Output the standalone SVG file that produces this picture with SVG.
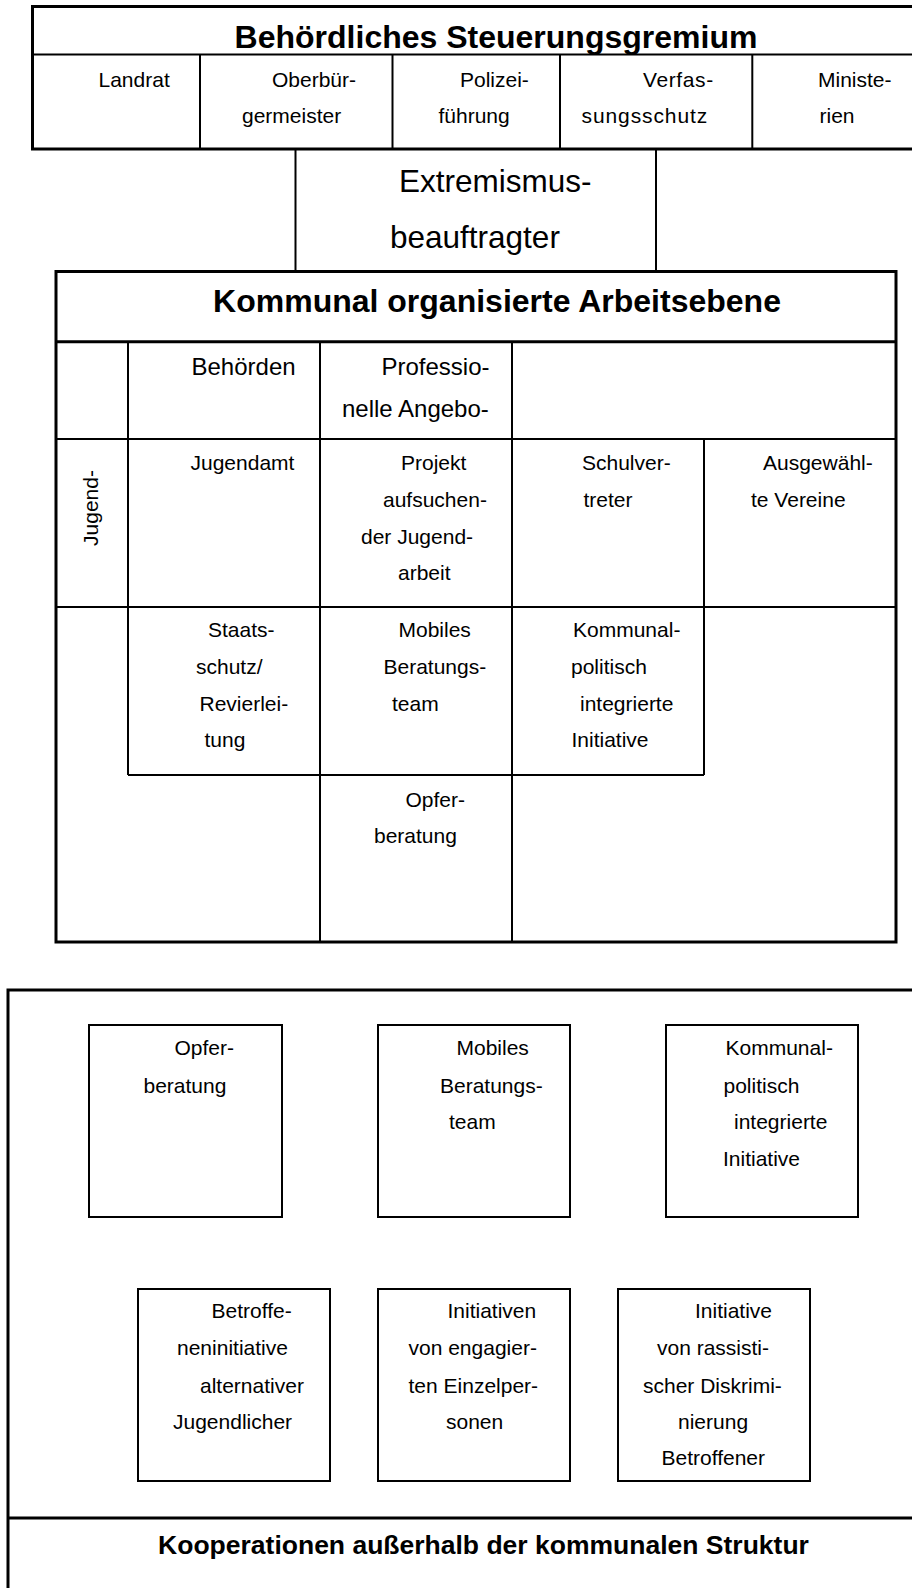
<svg xmlns="http://www.w3.org/2000/svg" width="912" height="1588" viewBox="0 0 912 1588">
<style>
.bg{fill:#fff}
.thick{fill:none;stroke:#000;stroke-width:3}
.thin{fill:none;stroke:#000;stroke-width:2}
text{font-family:"Liberation Sans",Arial,Helvetica,sans-serif;fill:#000}
.t21{font-size:21px}
.t24{font-size:24px}
.t31{font-size:31.5px}
.h32{font-size:32px;font-weight:bold;text-anchor:middle}
.h26{font-size:26.5px;font-weight:bold;text-anchor:middle}
</style>
<rect class="bg" x="0" y="0" width="912" height="1588"/>

<g id="steuerungsgremium">
  <rect class="thick" x="32.5" y="6.5" width="900" height="142.5"/>
  <line class="thin" x1="32.5" y1="54.5" x2="912" y2="54.5"/>
  <text class="h32" x="496" y="48">Behördliches Steuerungsgremium</text>
</g>
<g id="landrat">
  <text class="t21" x="98.5" y="87">Landrat</text>
</g>
<g id="oberbuergermeister">
  <line class="thin" x1="200" y1="54.5" x2="200" y2="149"/>
  <text class="t21" x="272" y="87">Oberbür-</text>
  <text class="t21" x="242" y="122.5">germeister</text>
</g>
<g id="polizeifuehrung">
  <line class="thin" x1="392.5" y1="54.5" x2="392.5" y2="149"/>
  <text class="t21" x="460" y="87">Polizei-</text>
  <text class="t21" x="438.5" y="122.5">führung</text>
</g>
<g id="verfassungsschutz">
  <line class="thin" x1="560" y1="54.5" x2="560" y2="149"/>
  <text class="t21" x="643" y="87" letter-spacing="0.6">Verfas-</text>
  <text class="t21" x="581.5" y="122.5" letter-spacing="0.9">sungsschutz</text>
</g>
<g id="ministerien">
  <line class="thin" x1="752.3" y1="54.5" x2="752.3" y2="149"/>
  <text class="t21" x="818" y="87">Ministe-</text>
  <text class="t21" x="819.5" y="122.5">rien</text>
</g>

<g id="extremismusbeauftragter">
  <rect class="thin" x="295.5" y="149" width="360.5" height="122"/>
  <text class="t31" x="399" y="191.5">Extremismus-</text>
  <text class="t31" x="390" y="248">beauftragter</text>
</g>

<g id="arbeitsebene">
  <rect class="thick" x="56" y="271.5" width="840" height="670.5"/>
  <line class="thick" x1="56" y1="341.7" x2="896" y2="341.7"/>
  <text class="h32" x="497" y="311.5">Kommunal organisierte Arbeitsebene</text>
</g>

<g id="connectors">
  <line class="thin" x1="128" y1="341.7" x2="128" y2="775"/>
  <line class="thin" x1="320" y1="341.7" x2="320" y2="942"/>
  <line class="thin" x1="512" y1="341.7" x2="512" y2="942"/>
  <line class="thin" x1="704" y1="439" x2="704" y2="775"/>
  <line class="thin" x1="56" y1="439" x2="896" y2="439"/>
  <line class="thin" x1="56" y1="607" x2="896" y2="607"/>
  <line class="thin" x1="128" y1="775" x2="704" y2="775"/>
</g>

<g id="behoerden">
  <text class="t24" x="191.5" y="375">Behörden</text>
</g>
<g id="professionelle-angebote">
  <text class="t24" x="381.5" y="375">Professio-</text>
  <text class="t24" x="342" y="417">nelle Angebo-</text>
</g>
<g id="jugend">
  <text class="t21" x="97.5" y="508" text-anchor="middle" transform="rotate(-90 97.5 508)">Jugend-</text>
</g>
<g id="jugendamt">
  <text class="t21" x="190.5" y="470">Jugendamt</text>
</g>
<g id="projekt-jugendarbeit">
  <text class="t21" x="401" y="470">Projekt</text>
  <text class="t21" x="383" y="506.5">aufsuchen-</text>
  <text class="t21" x="361" y="543.5">der Jugend-</text>
  <text class="t21" x="398" y="579.5">arbeit</text>
</g>
<g id="schulvertreter">
  <text class="t21" x="582" y="470">Schulver-</text>
  <text class="t21" x="583.5" y="506.5">treter</text>
</g>
<g id="vereine">
  <text class="t21" x="763" y="470">Ausgewähl-</text>
  <text class="t21" x="751" y="506.5">te Vereine</text>
</g>
<g id="staatsschutz">
  <text class="t21" x="208" y="636.7">Staats-</text>
  <text class="t21" x="196" y="674">schutz/</text>
  <text class="t21" x="199.5" y="711">Revierlei-</text>
  <text class="t21" x="204.5" y="746.7">tung</text>
</g>
<g id="mobiles-beratungsteam-1">
  <text class="t21" x="398.5" y="636.7">Mobiles</text>
  <text class="t21" x="383.5" y="674">Beratungs-</text>
  <text class="t21" x="392" y="711">team</text>
</g>
<g id="initiative-1">
  <text class="t21" x="573" y="636.7">Kommunal-</text>
  <text class="t21" x="571" y="674">politisch</text>
  <text class="t21" x="580" y="711">integrierte</text>
  <text class="t21" x="571.5" y="746.7">Initiative</text>
</g>
<g id="opferberatung-1">
  <text class="t21" x="405.5" y="807">Opfer-</text>
  <text class="t21" x="374" y="842.7">beratung</text>
</g>

<g id="kooperationen">
  <rect class="thick" x="8" y="990" width="920" height="700"/>
  <line class="thick" x1="8" y1="1518" x2="912" y2="1518"/>
  <text class="h26" x="483.5" y="1554">Kooperationen außerhalb der kommunalen Struktur</text>
</g>
<g id="opferberatung-2">
  <rect class="thin" x="89" y="1025" width="193" height="192"/>
  <text class="t21" x="174.5" y="1055">Opfer-</text>
  <text class="t21" x="143.5" y="1092.7">beratung</text>
</g>
<g id="mobiles-beratungsteam-2">
  <rect class="thin" x="378" y="1025" width="192" height="192"/>
  <text class="t21" x="456.5" y="1055">Mobiles</text>
  <text class="t21" x="440" y="1092.7">Beratungs-</text>
  <text class="t21" x="449" y="1129.3">team</text>
</g>
<g id="initiative-2">
  <rect class="thin" x="666" y="1025" width="192" height="192"/>
  <text class="t21" x="725.5" y="1055">Kommunal-</text>
  <text class="t21" x="723.5" y="1092.7">politisch</text>
  <text class="t21" x="734" y="1129.3">integrierte</text>
  <text class="t21" x="723" y="1166">Initiative</text>
</g>
<g id="betroffeneninitiative">
  <rect class="thin" x="138" y="1289" width="192" height="192"/>
  <text class="t21" x="211.5" y="1318.3">Betroffe-</text>
  <text class="t21" x="177" y="1355">neninitiative</text>
  <text class="t21" x="200" y="1392.7">alternativer</text>
  <text class="t21" x="173" y="1429">Jugendlicher</text>
</g>
<g id="einzelpersonen">
  <rect class="thin" x="378" y="1289" width="192" height="192"/>
  <text class="t21" x="447.5" y="1318.3">Initiativen</text>
  <text class="t21" x="408.5" y="1355">von engagier-</text>
  <text class="t21" x="408.5" y="1392.7">ten Einzelper-</text>
  <text class="t21" x="446" y="1429">sonen</text>
</g>
<g id="diskriminierung">
  <rect class="thin" x="618" y="1289" width="192" height="192"/>
  <text class="t21" x="695" y="1318.3">Initiative</text>
  <text class="t21" x="657" y="1355">von rassisti-</text>
  <text class="t21" x="643" y="1392.7">scher Diskrimi-</text>
  <text class="t21" x="678" y="1429">nierung</text>
  <text class="t21" x="661.5" y="1465">Betroffener</text>
</g>
</svg>
